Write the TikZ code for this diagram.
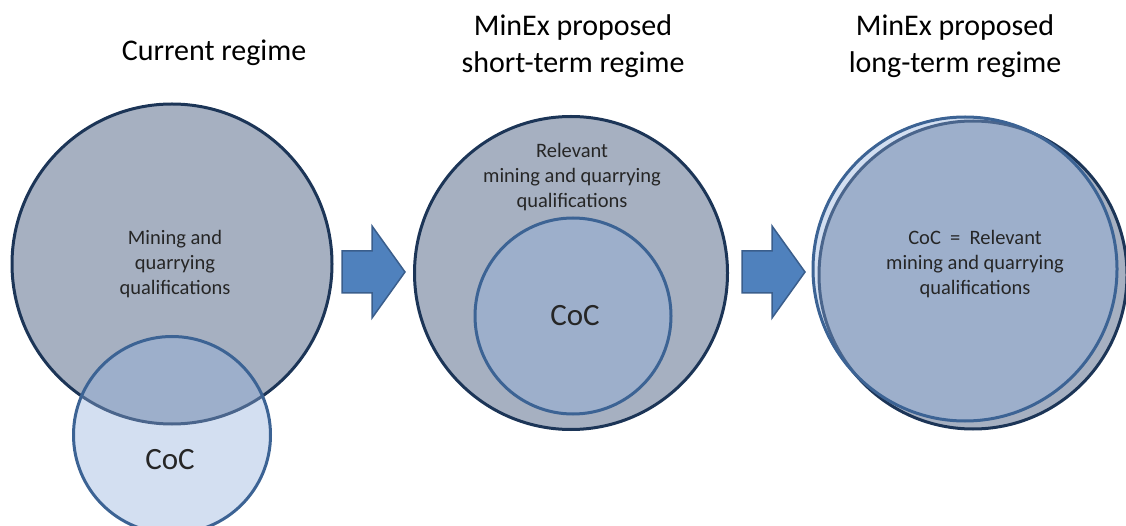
\documentclass[tikz,border=0pt]{standalone}
\usepackage{fontspec}
\setmainfont{Carlito}
\usepackage{xcolor}
\definecolor{qualgrey}{HTML}{A6B0C1}
\definecolor{qualline}{HTML}{1C3557}
\definecolor{cocfill}{HTML}{91AFDC}
\definecolor{cocline}{HTML}{3C6394}
\definecolor{arrowfill}{HTML}{4F81BD}
\definecolor{arrowline}{HTML}{3A5E8C}
\definecolor{bodytext}{HTML}{262626}
\tikzset{
    	every node/.append style={font=\fontsize{20.5}{25}\selectfont}}

\begin{document}
\begin{tikzpicture}
  [x=1pt,y=-1pt,
  	qual/.style={circle,inner sep=0pt,draw=qualline,line width=3pt,fill=qualgrey},
  	coc/.style={circle,inner sep=0pt,draw=cocline,line width=3pt,fill=cocfill,fill opacity=0.4},
  	lbl/.style={draw=none,fill=none,align=center,text=bodytext},
  	title/.style={draw=none,fill=none,align=center,font=\fontsize{30}{37}\selectfont},
  	big/.style={font=\fontsize{31}{36}\selectfont},
  	blockarrow/.style={draw=arrowline,line width=1.5pt,fill=arrowfill,line join=miter}
  ]
  \useasboundingbox (0,0) rectangle (1126,526);

  % current regime
  \node [title] (t1) at (214,53) {Current regime};
  \node [qual, minimum size=320pt] (q1) at (172,264) {};
  \node [coc, minimum size=197pt] (c1) at (172,435) {};
  \node [lbl] (n1) at (175,264) {Mining and\\quarrying\\qualifications};
  \node [lbl, big] (m1) at (170,460) {CoC};

  % short-term regime
  \node [title] (t2) at (573,46) {MinEx proposed\\short-term regime};
  \node [qual, minimum size=313pt] (q2) at (571,273) {};
  \node [coc, minimum size=196pt] (c2) at (573,316) {};
  \node [lbl] (n2) at (572,177) {Relevant\\mining and quarrying\\qualifications};
  \node [lbl, big] (m2) at (575,316) {CoC};

  % long-term regime
  \node [title] (t3) at (955,46) {MinEx proposed\\long-term regime};
  \node [qual, minimum size=308pt] (q3) at (973,275) {};
  \node [coc, minimum size=304pt] (c3) at (965,269) {};
  \node [lbl] (n3) at (975,264) {CoC ~=~ Relevant\\mining and quarrying\\qualifications};

  \foreach \sx in {342,742}
    \draw[blockarrow] (\sx,251) -- ++(30,0) -- ++(0,-25) -- ++(33,46)
      -- ++(-33,46) -- ++(0,-25) -- ++(-30,0) -- cycle;
\end{tikzpicture}
\end{document}
